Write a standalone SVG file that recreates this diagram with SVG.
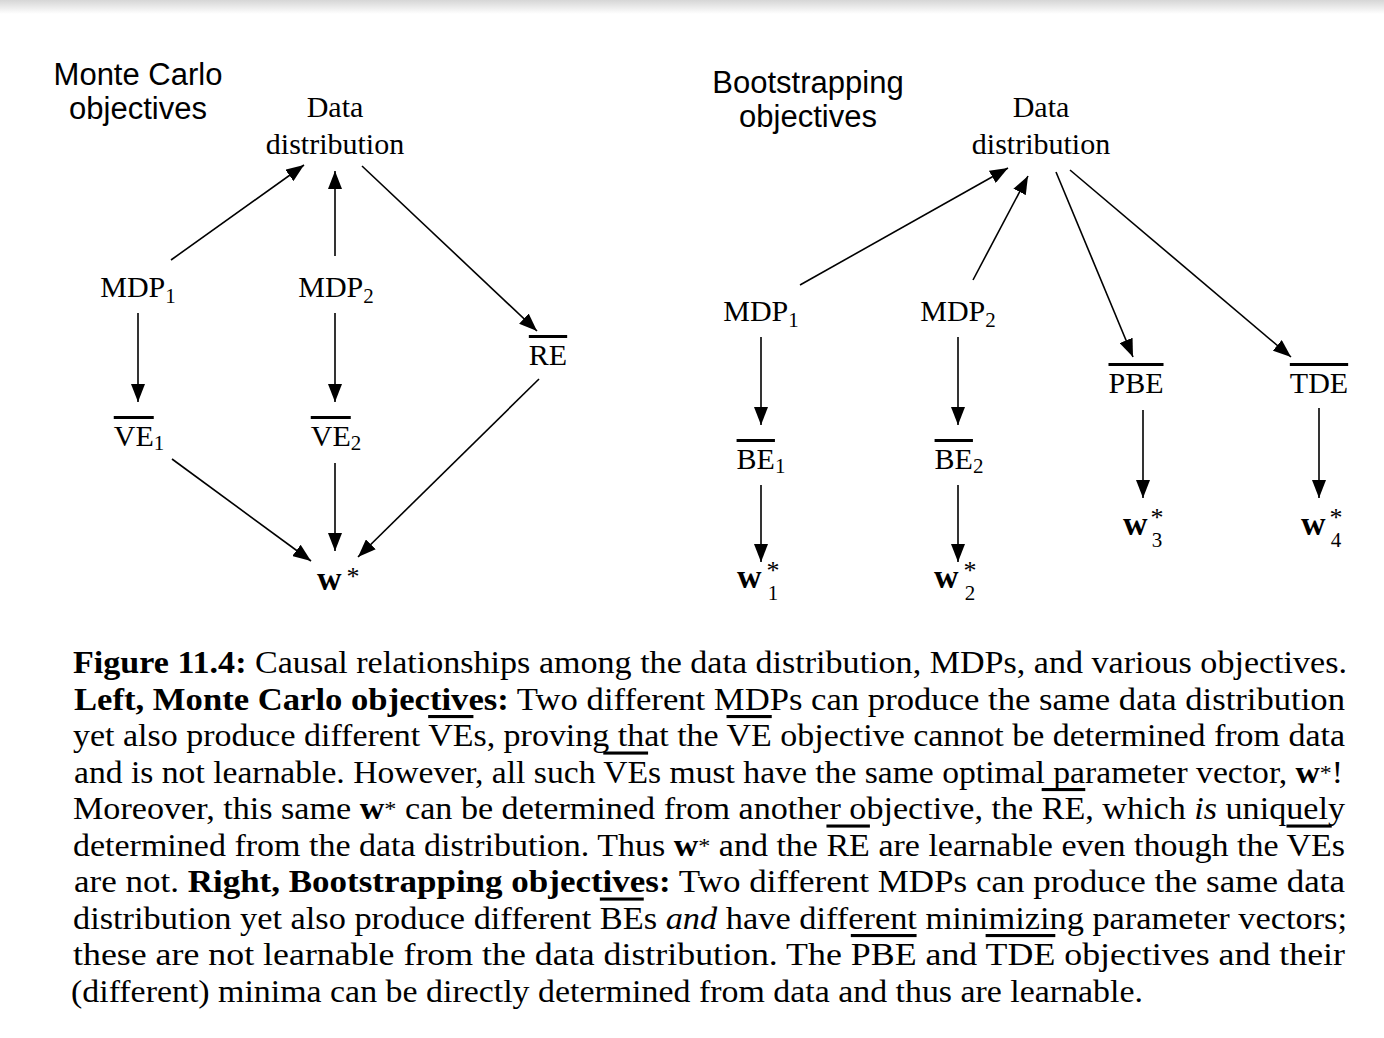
<svg xmlns="http://www.w3.org/2000/svg" width="1384" height="1038" viewBox="0 0 1384 1038">
<style>
.sans{font-family:"Liberation Sans",Arial,sans-serif;font-size:31px;fill:#000;text-anchor:middle}
.lbl{font-family:"Liberation Serif","Times New Roman",serif;font-size:30px;fill:#000;text-anchor:middle}
.sub{font-size:21px}
.ol{text-decoration:overline}
.wb{font-family:"Liberation Serif","Times New Roman",serif;font-size:34px;font-weight:bold;fill:#000}
.st{font-family:"Liberation Serif","Times New Roman",serif;font-size:26px;fill:#000;text-anchor:middle}
.sd{font-family:"Liberation Serif","Times New Roman",serif;font-size:21px;fill:#000;text-anchor:middle}
.cap{font-family:"Liberation Serif","Times New Roman",serif;font-size:31px;fill:#000}
.b{font-weight:bold}
.i{font-style:italic}
.edge{stroke:#000;stroke-width:1.6;fill:none;marker-end:url(#ah)}
</style>
<defs>
<marker id="ah" markerUnits="userSpaceOnUse" markerWidth="18" markerHeight="14" refX="18" refY="7" orient="auto" viewBox="0 0 18 14">
<path d="M0,0 L18,7 L0,14 z" fill="#000"/>
</marker>
<linearGradient id="topg" x1="0" y1="0" x2="0" y2="1">
<stop offset="0" stop-color="#d6d6d6"/>
<stop offset="1" stop-color="#ffffff"/>
</linearGradient>
</defs>
<rect x="0" y="0" width="1384" height="1038" fill="#ffffff"/>
<rect x="0" y="0" width="1384" height="14" fill="url(#topg)"/>

<g id="title-left"><text class="sans" x="138" y="85">Monte Carlo</text><text class="sans" x="138" y="119">objectives</text></g>
<g id="title-right"><text class="sans" x="808" y="93">Bootstrapping</text><text class="sans" x="808" y="127">objectives</text></g>

<g id="L-data"><text class="lbl" x="335" y="117">Data</text><text class="lbl" x="335" y="154">distribution</text></g>
<g id="L-mdp1"><text class="lbl" x="138" y="297">MDP<tspan class="sub" dy="6">1</tspan></text></g>
<g id="L-mdp2"><text class="lbl" x="336" y="297">MDP<tspan class="sub" dy="6">2</tspan></text></g>
<g id="L-re"><text class="lbl" x="548" y="365"><tspan class="ol">RE</tspan></text></g>
<g id="L-ve1"><text class="lbl" x="139" y="446"><tspan class="ol">VE</tspan><tspan class="sub" dy="4">1</tspan></text></g>
<g id="L-ve2"><text class="lbl" x="336" y="446"><tspan class="ol">VE</tspan><tspan class="sub" dy="4">2</tspan></text></g>
<g id="L-w"><text class="wb" x="317" y="590">w</text><text class="st" x="353" y="585">*</text></g>

<g id="R-data"><text class="lbl" x="1041" y="117">Data</text><text class="lbl" x="1041" y="154">distribution</text></g>
<g id="R-mdp1"><text class="lbl" x="761" y="321">MDP<tspan class="sub" dy="6">1</tspan></text></g>
<g id="R-mdp2"><text class="lbl" x="958" y="321">MDP<tspan class="sub" dy="6">2</tspan></text></g>
<g id="R-be1"><text class="lbl" x="761" y="469"><tspan class="ol">BE</tspan><tspan class="sub" dy="4">1</tspan></text></g>
<g id="R-be2"><text class="lbl" x="959" y="469"><tspan class="ol">BE</tspan><tspan class="sub" dy="4">2</tspan></text></g>
<g id="R-pbe"><text class="lbl" x="1136" y="393"><tspan class="ol">PBE</tspan></text></g>
<g id="R-tde"><text class="lbl" x="1319" y="393"><tspan class="ol">TDE</tspan></text></g>
<g id="R-w1"><text class="wb" x="737" y="588">w</text><text class="st" x="773" y="579">*</text><text class="sd" x="773" y="600">1</text></g>
<g id="R-w2"><text class="wb" x="934" y="588">w</text><text class="st" x="970" y="579">*</text><text class="sd" x="970" y="600">2</text></g>
<g id="R-w3"><text class="wb" x="1123" y="535">w</text><text class="st" x="1157" y="526">*</text><text class="sd" x="1157" y="547">3</text></g>
<g id="R-w4"><text class="wb" x="1301" y="535">w</text><text class="st" x="1336" y="526">*</text><text class="sd" x="1336" y="547">4</text></g>

<g id="connectors">
<path class="edge" d="M171,260 L304,165"/>
<path class="edge" d="M335,256 L335,171"/>
<path class="edge" d="M362,166 L537,331"/>
<path class="edge" d="M138,313 L138,402"/>
<path class="edge" d="M335,313 L335,402"/>
<path class="edge" d="M172,459 L311,561"/>
<path class="edge" d="M335,463 L335,551"/>
<path class="edge" d="M539,379 L358,557"/>
<path class="edge" d="M800,285 L1008,168"/>
<path class="edge" d="M973,280 L1028,176"/>
<path class="edge" d="M1056,172 L1133,357"/>
<path class="edge" d="M1070,170 L1291,357"/>
<path class="edge" d="M761,337 L761,425"/>
<path class="edge" d="M958,337 L958,425"/>
<path class="edge" d="M761,485 L761,562"/>
<path class="edge" d="M958,485 L958,562"/>
<path class="edge" d="M1143,410 L1143,498"/>
<path class="edge" d="M1319,408 L1319,498"/>
</g>

<g id="caption">
<text class="cap" x="73" y="673" textLength="1274" lengthAdjust="spacingAndGlyphs"><tspan class="b">Figure 11.4:</tspan> Causal relationships among the data distribution, MDPs, and various objectives.</text>
<text class="cap" x="74" y="709.5" textLength="1271" lengthAdjust="spacingAndGlyphs"><tspan class="b">Left, Monte Carlo objectives:</tspan> Two different MDPs can produce the same data distribution</text>
<text class="cap" x="73" y="746" textLength="1272" lengthAdjust="spacingAndGlyphs">yet also produce different <tspan class="ol">VE</tspan>s, proving that the <tspan class="ol">VE</tspan> objective cannot be determined from data</text>
<text class="cap" x="74" y="782.5" textLength="1269" lengthAdjust="spacingAndGlyphs">and is not learnable. However, all such <tspan class="ol">VE</tspan>s must have the same optimal parameter vector, <tspan class="b">w</tspan><tspan font-size="22" dy="-3">*</tspan><tspan dy="3">!</tspan></text>
<text class="cap" x="73" y="819" textLength="1272" lengthAdjust="spacingAndGlyphs">Moreover, this same <tspan class="b">w</tspan><tspan font-size="22" dy="-3">*</tspan><tspan dy="3"> can be determined from another objective, the </tspan><tspan class="ol">RE</tspan>, which <tspan class="i">is</tspan> uniquely</text>
<text class="cap" x="73" y="855.5" textLength="1272" lengthAdjust="spacingAndGlyphs">determined from the data distribution. Thus <tspan class="b">w</tspan><tspan font-size="22" dy="-3">*</tspan><tspan dy="3"> and the </tspan><tspan class="ol">RE</tspan> are learnable even though the <tspan class="ol">VE</tspan>s</text>
<text class="cap" x="74" y="892" textLength="1271" lengthAdjust="spacingAndGlyphs">are not. <tspan class="b">Right, Bootstrapping objectives:</tspan> Two different MDPs can produce the same data</text>
<text class="cap" x="73" y="928.5" textLength="1274" lengthAdjust="spacingAndGlyphs">distribution yet also produce different <tspan class="ol">BE</tspan>s <tspan class="i">and</tspan> have different minimizing parameter vectors;</text>
<text class="cap" x="73" y="965" textLength="1272" lengthAdjust="spacingAndGlyphs">these are not learnable from the data distribution. The <tspan class="ol">PBE</tspan> and <tspan class="ol">TDE</tspan> objectives and their</text>
<text class="cap" x="71" y="1001.5" textLength="1072" lengthAdjust="spacingAndGlyphs">(different) minima can be directly determined from data and thus are learnable.</text>
</g>
</svg>
